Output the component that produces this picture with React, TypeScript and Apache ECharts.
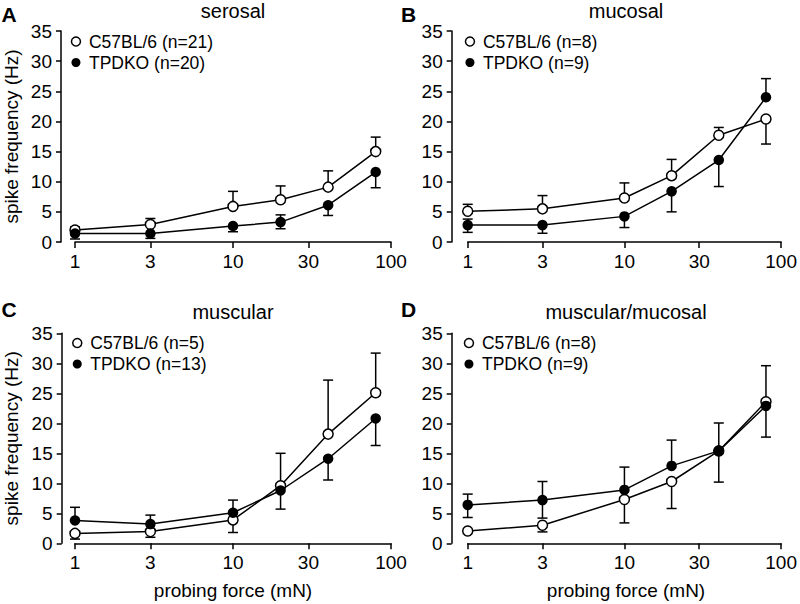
import React, { useEffect, useRef } from 'react';
import * as echarts from 'echarts';

// probing forces (mN)
const forces = [1, 3, 10, 20, 40, 80];
const xTickValues = [1, 3, 10, 30, 100];

// Panel A – serosal
const serosalWTName = 'C57BL/6 (n=21)';
const serosalWT = [2.0, 2.9, 5.9, 7.0, 9.1, 15.0];
const serosalWTHi = [2.5, 3.9, 8.4, 9.3, 11.8, 17.4];
const serosalWTLo = [null, null, null, null, null, null];
const serosalKOName = 'TPDKO (n=20)';
const serosalKO = [1.4, 1.4, 2.65, 3.3, 6.1, 11.6];
const serosalKOHi = [null, null, null, 4.5, null, null];
const serosalKOLo = [0.5, 0.6, 1.7, 2.2, 4.4, 9.0];

// Panel B – mucosal
const mucosalWTName = 'C57BL/6 (n=8)';
const mucosalWT = [5.1, 5.5, 7.3, 11.0, 17.7, 20.4];
const mucosalWTHi = [6.25, 7.7, 9.8, 13.7, 19.0, null];
const mucosalWTLo = [null, null, null, null, null, 16.25];
const mucosalKOName = 'TPDKO (n=9)';
const mucosalKO = [2.8, 2.8, 4.25, 8.4, 13.6, 24.0];
const mucosalKOHi = [3.8, null, null, null, null, 27.1];
const mucosalKOLo = [1.6, 1.45, 2.4, 5.0, 9.2, null];

// Panel C – muscular
const muscularWTName = 'C57BL/6 (n=5)';
const muscularWT = [1.65, 1.95, 3.9, 9.6, 18.2, 25.1];
const muscularWTHi = [null, null, null, 15.0, 27.2, 31.7];
const muscularWTLo = [0.7, 1.0, 1.8, null, null, null];
const muscularKOName = 'TPDKO (n=13)';
const muscularKO = [3.8, 3.2, 5.1, 8.8, 14.1, 20.8];
const muscularKOHi = [6.0, 4.7, 7.2, null, null, null];
const muscularKOLo = [null, null, null, 5.7, 10.55, 16.3];

// Panel D – muscular/mucosal
const mmWTName = 'C57BL/6 (n=8)';
const mmWT = [2.05, 3.0, 7.3, 10.3, 15.4, 23.6];
const mmWTHi = [null, null, null, null, null, 29.6];
const mmWTLo = [null, 1.9, 3.4, 5.8, 10.2, null];
const mmKOName = 'TPDKO (n=9)';
const mmKO = [6.4, 7.2, 8.9, 12.9, 15.4, 22.9];
const mmKOHi = [8.2, 10.3, 12.7, 17.2, 20.05, null];
const mmKOLo = [4.3, 4.2, null, null, null, 17.7];

const panels = [
  { letter: 'A', title: 'serosal', wtName: serosalWTName, wt: serosalWT, wtHi: serosalWTHi, wtLo: serosalWTLo, koName: serosalKOName, ko: serosalKO, koHi: serosalKOHi, koLo: serosalKOLo },
  { letter: 'B', title: 'mucosal', wtName: mucosalWTName, wt: mucosalWT, wtHi: mucosalWTHi, wtLo: mucosalWTLo, koName: mucosalKOName, ko: mucosalKO, koHi: mucosalKOHi, koLo: mucosalKOLo },
  { letter: 'C', title: 'muscular', wtName: muscularWTName, wt: muscularWT, wtHi: muscularWTHi, wtLo: muscularWTLo, koName: muscularKOName, ko: muscularKO, koHi: muscularKOHi, koLo: muscularKOLo },
  { letter: 'D', title: 'muscular/mucosal', wtName: mmWTName, wt: mmWT, wtHi: mmWTHi, wtLo: mmWTLo, koName: mmKOName, ko: mmKO, koHi: mmKOHi, koLo: mmKOLo },
];

// layout (pixels)
const layout = [
  { left: 75, top: 31, width: 316, height: 211, yOff: 14, legendLeft: 70.7, legendTop: 32.5, letterX: 1.5, letterY: 14, titleY: 11, yTitle: true, xTitle: false },
  { left: 467.7, top: 31, width: 316.6, height: 211, yOff: 16, legendLeft: 464.7, legendTop: 32.5, letterX: 401, letterY: 14, titleY: 11, yTitle: false, xTitle: false },
  { left: 75, top: 333.3, width: 316, height: 210, yOff: 13.3, legendLeft: 72, legendTop: 334, letterX: 1.5, letterY: 309, titleY: 312, yTitle: true, xTitle: true },
  { left: 467.7, top: 333.3, width: 316.6, height: 210, yOff: 16, legendLeft: 463.7, legendTop: 334, letterX: 401, letterY: 309, titleY: 311.5, yTitle: false, xTitle: true },
];

const FONT = "'Liberation Sans', Arial, Helvetica, sans-serif";
const LW = 1.5;

const errRender = (params: any, api: any) => {
  const x = api.value(0);
  const y = api.value(1);
  const e = api.value(2);
  const p0 = api.coord([x, y]);
  const p1 = api.coord([x, e]);
  const st = { stroke: '#000', lineWidth: LW, fill: 'none' };
  return {
    type: 'group',
    children: [
      { type: 'line', shape: { x1: p0[0], y1: p0[1], x2: p1[0], y2: p1[1] }, style: st },
      { type: 'line', shape: { x1: p1[0] - 5, y1: p1[1], x2: p1[0] + 5, y2: p1[1] }, style: st },
    ],
  };
};

function errData(means: number[], hi: (number | null)[], lo: (number | null)[]) {
  const out: number[][] = [];
  forces.forEach((f, i) => {
    if (hi[i] != null) out.push([f, means[i], hi[i] as number]);
    if (lo[i] != null) out.push([f, means[i], lo[i] as number]);
  });
  return out;
}

function buildOption() {
  const grid: any[] = [];
  const xAxis: any[] = [];
  const yAxis: any[] = [];
  const series: any[] = [];
  const legend: any[] = [];
  const graphic: any[] = [];

  panels.forEach((p, i) => {
    const L = layout[i];
    grid.push({ left: L.left, top: L.top, width: L.width, height: L.height, containLabel: false });
    xAxis.push({
      type: 'log',
      logBase: 10,
      gridIndex: i,
      min: 1,
      max: 100,
      offset: 2,
      axisLine: { show: true, lineStyle: { color: '#000', width: LW } },
      axisTick: { show: true, inside: false, length: 6, customValues: xTickValues, lineStyle: { color: '#000', width: LW } },
      minorTick: { show: false },
      axisLabel: { show: true, customValues: xTickValues, color: '#000', fontSize: 19, fontFamily: FONT, margin: 8, hideOverlap: false, showMinLabel: true, showMaxLabel: true },
      splitLine: { show: false },
    });
    yAxis.push({
      type: 'value',
      gridIndex: i,
      min: 0,
      max: 35,
      interval: 5,
      offset: L.yOff,
      axisLine: { show: true, lineStyle: { color: '#000', width: LW } },
      axisTick: { show: true, inside: false, length: 5, lineStyle: { color: '#000', width: LW } },
      axisLabel: { color: '#000', fontSize: 19, fontFamily: FONT, margin: 9 },
      splitLine: { show: false },
    });

    series.push({
      type: 'custom', name: p.wtName + ' SEM', xAxisIndex: i, yAxisIndex: i, z: 2, clip: false,
      renderItem: errRender, encode: { x: 0, y: 1 }, data: errData(p.wt, p.wtHi, p.wtLo),
    });
    series.push({
      type: 'custom', name: p.koName + ' SEM', xAxisIndex: i, yAxisIndex: i, z: 2, clip: false,
      renderItem: errRender, encode: { x: 0, y: 1 }, data: errData(p.ko, p.koHi, p.koLo),
    });
    series.push({
      type: 'line', name: p.wtName, xAxisIndex: i, yAxisIndex: i, z: 3,
      data: forces.map((f, k) => [f, p.wt[k]]),
      symbol: 'circle', symbolSize: 10, showSymbol: true,
      lineStyle: { color: '#000', width: LW },
      itemStyle: { color: '#fff', borderColor: '#000', borderWidth: LW },
    });
    series.push({
      type: 'line', name: p.koName, xAxisIndex: i, yAxisIndex: i, z: 4,
      data: forces.map((f, k) => [f, p.ko[k]]),
      symbol: 'circle', symbolSize: 10.5, showSymbol: true,
      lineStyle: { color: '#000', width: LW },
      itemStyle: { color: '#000', borderColor: '#000', borderWidth: 0 },
    });

    legend.push({
      left: L.legendLeft,
      top: L.legendTop,
      orient: 'vertical',
      icon: 'circle',
      itemWidth: 16,
      itemHeight: 9,
      itemGap: 3,
      padding: 0,
      selectedMode: false,
      textStyle: { color: '#000', fontSize: 17.5, fontFamily: FONT, lineHeight: 17 },
      data: [
        { name: p.wtName, itemStyle: { color: '#fff', borderColor: '#000', borderWidth: LW } },
        { name: p.koName, itemStyle: { color: '#000', borderColor: '#000', borderWidth: 0 } },
      ],
    });

    graphic.push({
      type: 'text', x: L.letterX, y: L.letterY,
      style: { text: p.letter, fill: '#000', fontSize: 21, fontWeight: 'bold', fontFamily: FONT, textAlign: 'left', textVerticalAlign: 'middle', align: 'left', verticalAlign: 'middle' },
    });
    graphic.push({
      type: 'text', x: L.left + L.width / 2, y: L.titleY,
      style: { text: p.title, fill: '#000', fontSize: 20, fontFamily: FONT, textAlign: 'center', textVerticalAlign: 'middle', align: 'center', verticalAlign: 'middle' },
    });
    if (L.yTitle) {
      graphic.push({
        type: 'text', x: 11.5, y: L.top + L.height / 2, rotation: Math.PI / 2,
        style: { text: 'spike frequency (Hz)', fill: '#000', fontSize: 19, fontFamily: FONT, textAlign: 'center', textVerticalAlign: 'middle', align: 'center', verticalAlign: 'middle' },
      });
    }
    if (L.xTitle) {
      graphic.push({
        type: 'text', x: L.left + L.width / 2, y: 590.5,
        style: { text: 'probing force (mN)', fill: '#000', fontSize: 19, fontFamily: FONT, textAlign: 'center', textVerticalAlign: 'middle', align: 'center', verticalAlign: 'middle' },
      });
    }
  });

  return {
    animation: false,
    backgroundColor: '#fff',
    grid, xAxis, yAxis, series, legend, graphic,
  };
}

export default function App() {
  const ref = useRef<HTMLDivElement>(null);
  useEffect(() => {
    document.body.style.margin = '0';
    if (!ref.current) return;
    const chart = echarts.init(ref.current, null, { renderer: 'svg' });
    chart.setOption(buildOption() as any);
    return () => chart.dispose();
  }, []);
  return <div ref={ref} style={{ width: 800, height: 604 }} />;
}
